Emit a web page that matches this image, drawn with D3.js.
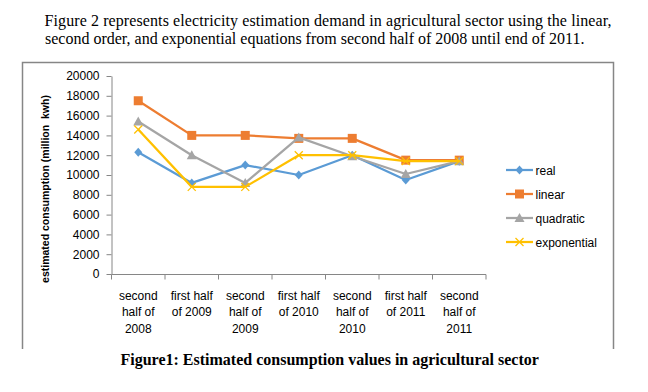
<!DOCTYPE html>
<html><head><meta charset="utf-8">
<script src="https://cdn.jsdelivr.net/npm/d3@7/dist/d3.min.js"></script>
<style>body{margin:0;background:#fff}svg{display:block}</style>
</head><body>
<svg id="c" width="648" height="392"></svg>
<script>
const categories = ["second\nhalf of\n2008","first half\nof 2009","second\nhalf of\n2009","first half\nof 2010","second\nhalf of\n2010","first half\nof 2011","second\nhalf of\n2011"];
const real = [12300, 9200, 11000, 10000, 12000, 9500, 11400];
const linear = [17500, 14000, 14000, 13700, 13700, 11500, 11500];
const quadratic = [15400, 12000, 9200, 13800, 11900, 10100, 11400];
const exponential = [14600, 8800, 8800, 12000, 12000, 11400, 11400];
const yTicks = [0,2000,4000,6000,8000,10000,12000,14000,16000,18000,20000];
const seriesNames = ["real","linear","quadratic","exponential"];
const seriesColors = ["#5B9BD5","#ED7D31","#A5A5A5","#FFC000"];
const seriesMarkers = ["diamond","square","triangle","x"];
const seriesData = [real, linear, quadratic, exponential];

const svg = d3.select("#c");
const sans = "'Liberation Sans', Arial, sans-serif";
const serif = "'Liberation Serif', 'Times New Roman', serif";

// heading text
svg.append("text").attr("x",44.5).attr("y",25.5).attr("font-family",serif).attr("font-size",16)
  .attr("textLength",567).attr("lengthAdjust","spacing").attr("fill","#000")
  .text("Figure 2 represents electricity estimation demand in agricultural sector using the linear,");
svg.append("text").attr("x",45).attr("y",43.5).attr("font-family",serif).attr("font-size",16).attr("fill","#000")
  .text("second order, and exponential equations from second half of 2008 until end of 2011.");

// chart frame (left, top, right)
svg.append("path").attr("d","M22.5,349 V62.5 H613.5 V349").attr("fill","none").attr("stroke","#868686").attr("stroke-width",1.5);

const x = d3.scaleBand().domain(categories).range([111.5,486]);
const y = d3.scaleLinear().domain([0,20000]).range([274,76]);

// y axis
const ya = svg.append("g").attr("transform","translate(111.5,0)")
  .call(d3.axisLeft(y).tickValues(yTicks).tickFormat(d3.format("d")).tickSize(5).tickPadding(7).tickSizeOuter(0));
ya.select(".domain").attr("stroke","#868686");
ya.selectAll(".tick line").attr("stroke","#868686");
ya.selectAll("text").attr("font-family",sans).attr("font-size",12).attr("fill","#000");

// x axis
const xg = svg.append("g");
xg.append("line").attr("x1",x.range()[0]).attr("x2",x.range()[1]).attr("y1",274.5).attr("y2",274.5).attr("stroke","#868686");
const edges = categories.map(c=>x(c)).concat([x.range()[1]]);
xg.selectAll("line.t").data(edges).join("line").attr("class","t")
  .attr("x1",d=>d).attr("x2",d=>d).attr("y1",274.5).attr("y2",279.5).attr("stroke","#868686");
categories.forEach(c=>{
  const t = svg.append("text").attr("font-family",sans).attr("font-size",12).attr("text-anchor","middle").attr("fill","#000");
  c.split("\n").forEach((ln,i)=>{
    t.append("tspan").attr("x",x(c)+x.bandwidth()/2).attr("y",300+i*16.3).text(ln);
  });
});

// y title
svg.append("text").attr("transform","translate(48.5,189) rotate(-90)").attr("text-anchor","middle")
  .attr("font-family",sans).attr("font-size",10.5).attr("font-weight","bold").attr("fill","#000")
  .attr("xml:space","preserve").text("estimated consumption (million  kwh)");

function marker(g, type, color, cx, cy){
  if(type==="diamond"){
    g.append("path").attr("d",`M${cx},${cy-4.5}L${cx+4},${cy}L${cx},${cy+4.5}L${cx-4},${cy}Z`).attr("fill",color);
  } else if(type==="square"){
    g.append("rect").attr("x",cx-4.5).attr("y",cy-4.5).attr("width",9).attr("height",9).attr("fill",color);
  } else if(type==="triangle"){
    g.append("path").attr("d",`M${cx},${cy-5}L${cx+5},${cy+4}L${cx-5},${cy+4}Z`).attr("fill",color);
  } else {
    g.append("path").attr("d",`M${cx-4},${cy-4}L${cx+4},${cy+4}M${cx+4},${cy-4}L${cx-4},${cy+4}`).attr("stroke",color).attr("stroke-width",1.3).attr("fill","none");
  }
}

const line = d3.line().x((d,i)=>x(categories[i])+x.bandwidth()/2).y(d=>y(d));
seriesData.forEach((data,s)=>{
  const g = svg.append("g");
  g.append("path").datum(data).attr("d",line).attr("fill","none").attr("stroke",seriesColors[s]).attr("stroke-width",2.25).attr("stroke-linejoin","round");
  data.forEach((v,i)=>marker(g, seriesMarkers[s], seriesColors[s], x(categories[i])+x.bandwidth()/2, y(v)));
});

// legend
seriesNames.forEach((n,s)=>{
  const ly = 170 + s*24;
  const g = svg.append("g");
  g.append("line").attr("x1",506).attr("x2",533).attr("y1",ly).attr("y2",ly).attr("stroke",seriesColors[s]).attr("stroke-width",2.25);
  marker(g, seriesMarkers[s], seriesColors[s], 519.5, ly);
  g.append("text").attr("x",535.5).attr("y",ly+4.5).attr("font-family",sans).attr("font-size",12).attr("fill","#000").text(n);
});

// caption
svg.append("text").attr("x",120.5).attr("y",365).attr("font-family",serif).attr("font-size",16).attr("font-weight","bold").attr("fill","#000")
  .text("Figure1: Estimated consumption values in agricultural sector");
</script>
</body></html>
